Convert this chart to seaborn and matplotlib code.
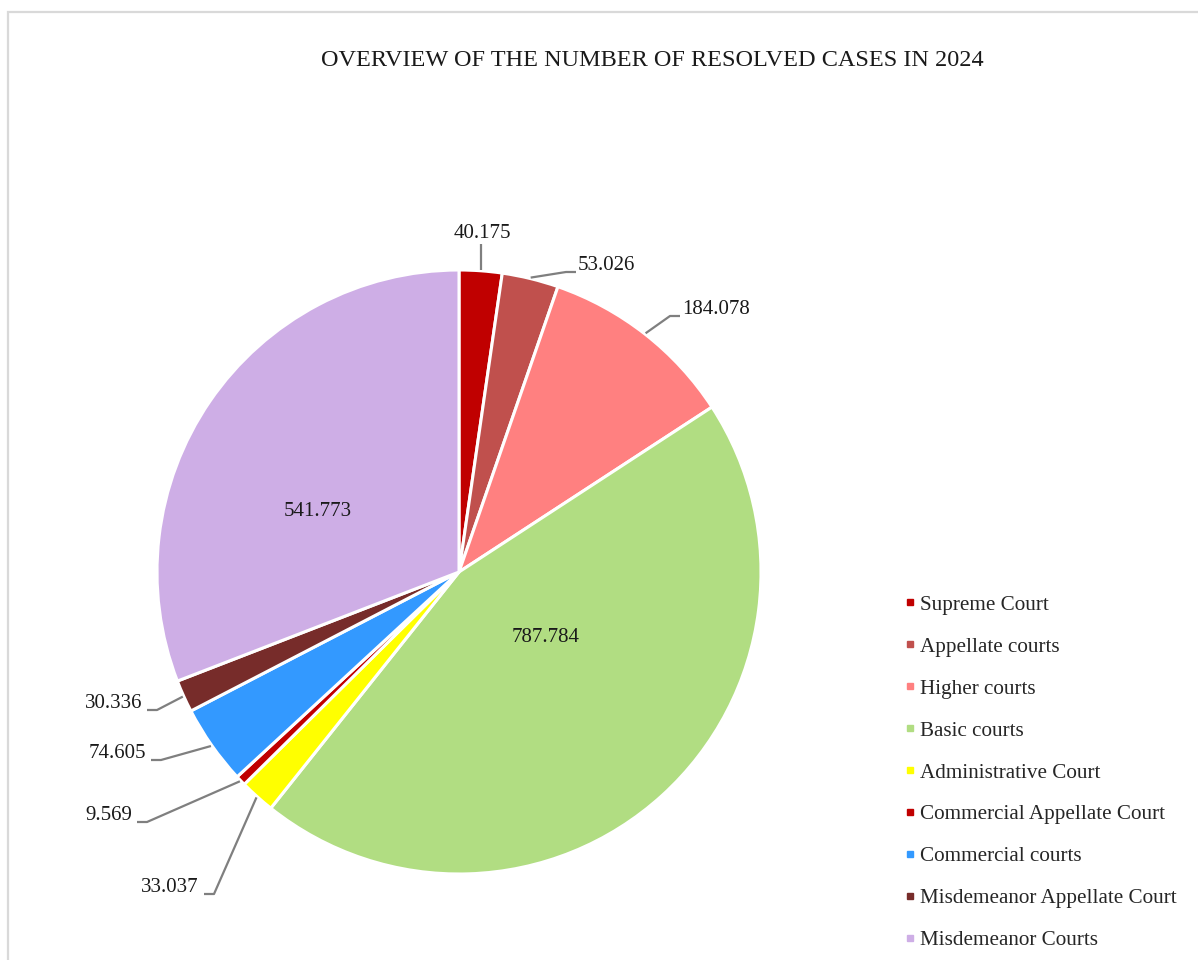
import numpy as np
import matplotlib
matplotlib.use("Agg")
import matplotlib.pyplot as plt
from matplotlib.lines import Line2D
from matplotlib.patches import Rectangle
import seaborn as sns

# data: resolved cases per court type in 2024
courts = ["Supreme Court", "Appellate courts", "Higher courts", "Basic courts",
          "Administrative Court", "Commercial Appellate Court", "Commercial courts",
          "Misdemeanor Appellate Court", "Misdemeanor Courts"]
cases = [40175, 53026, 184078, 787784, 33037, 9569, 74605, 30336, 541773]
colors = ["#C00000", "#C0504D", "#FF8080", "#B1DD82", "#FFFF00",
          "#C00000", "#3399FF", "#772C2A", "#CEAEE6"]

# label placement (pixel coords, text centre) and alignment
label_pos = [(482, 233, "center"), (578, 266, "left"), (682, 310, "left"),
             (546, 637, "center"), (199, 888, "right"), (132, 816, "right"),
             (146, 754, "right"), (142, 704, "right"), (318, 512, "center")]
inside = [3, 8]

W, H = 1198, 960
cx, cy, R = 459, 572, 302

sns.set_theme(style="white")
plt.rcParams["font.family"] = ["Liberation Serif", "DejaVu Serif"]

fig = plt.figure(figsize=(W / 100, H / 100), dpi=100)
ax = fig.add_axes([0, 0, 1, 1])

def py(y):
    return H - y

# light frame around chart area
ax.add_patch(Rectangle((8, py(1000)), 1300, 988, fill=False, edgecolor="#D9D9D9", lw=1.6))

wedges, _ = ax.pie(cases, colors=colors, startangle=90, counterclock=False,
                   center=(cx, py(cy)), radius=R, frame=True,
                   wedgeprops=dict(edgecolor="white", linewidth=2.2))
ax.set_xlim(0, W)
ax.set_ylim(0, H)
ax.axis("off")

fmt = lambda v: f"{v:,}".replace(",", ".")
total = sum(cases)
cum = 0
for i, v in enumerate(cases):
    mid = (cum + v / 2) / total * 2 * np.pi
    cum += v
    tx, ty, ha = label_pos[i]
    ax.text(tx, py(ty), fmt(v), ha=ha, va="center", fontsize=15, color="#1a1a1a")
    if i in inside:
        continue
    wx = cx + (R + 1) * np.sin(mid)
    wy = cy - (R + 1) * np.cos(mid)
    if ha == "center":
        xs, ys = [wx, wx], [wy, ty + 11]
    elif ha == "left":
        xs, ys = [wx, tx - 12, tx - 2], [wy, ty + 6, ty + 6]
    else:
        xs, ys = [wx, tx + 15, tx + 5], [wy, ty + 6, ty + 6]
    ax.plot(xs, [py(y) for y in ys], color="#7F7F7F", lw=1.6, solid_capstyle="butt")

ax.text(652, py(61), "OVERVIEW OF THE NUMBER OF RESOLVED CASES IN 2024",
        ha="center", va="center", fontsize=17.5, color="#1a1a1a")

handles = [Line2D([], [], marker="s", ls="", color=c, markersize=5) for c in colors]
ax.legend(handles, courts, loc="upper left", bbox_to_anchor=(905 / W, 1 - 595 / H),
          frameon=False, fontsize=15.2, handlelength=0.5, handletextpad=0.21,
          labelspacing=1.05, borderaxespad=0, borderpad=0)

fig.savefig("out.png", dpi=100)
